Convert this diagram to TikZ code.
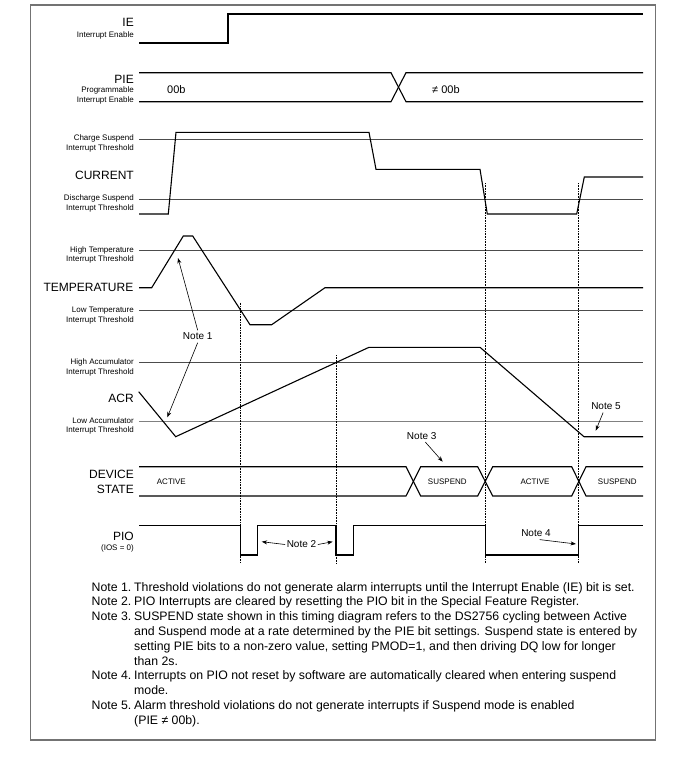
\documentclass[tikz,border=0pt]{standalone}
\usepackage{fontspec}
\setmainfont{Liberation Sans}
\usetikzlibrary{arrows.meta}
\begin{document}
\begin{tikzpicture}[x=1pt,y=-1pt,
  sig/.style={line width=1.1pt, black, line join=miter},
  thr/.style={line width=0.8pt, black!70},
  thrlight/.style={line width=1.3pt, black!50},
  vdash/.style={line width=0.6pt, densely dotted, black},
  big/.style={font=\fontsize{12}{12}\selectfont, anchor=base east, inner sep=0},
  sml/.style={font=\fontsize{8}{8}\selectfont, anchor=base east, inner sep=0},
  st/.style={font=\fontsize{8}{8}\selectfont, anchor=base, inner sep=0},
  notelbl/.style={font=\fontsize{10}{10}\selectfont, inner sep=2.5pt},
  ptr/.style={-{Stealth[length=5.5pt,width=4pt]}, line width=0.6pt},
  ntag/.style={font=\fontsize{12.3}{12.3}\selectfont, anchor=base west, inner sep=0},
]
\useasboundingbox (0,0) rectangle (678,758);
\fill[white] (0,0) rectangle (678,758);
\draw[black!55, line width=1.5pt] (30.5,5) rectangle (655.5,740);

% ---------- IE ----------
\node[big] (ieL) at (134,26.7) {IE};
\node[sml] (ieS) at (134,37) {Interrupt Enable};
\draw[sig] (139,43) -- (228,43) -- (228,14) -- (643,14);

% ---------- PIE ----------
\node[big] (pieL) at (134,83.3) {PIE};
\node[sml] (pieS1) at (134,92) {Programmable};
\node[sml] (pieS2) at (134,102) {Interrupt Enable};
\draw[sig] (139,72.7) -- (391,72.7) -- (406,101.7) -- (643,101.7);
\draw[sig] (139,101.7) -- (391,101.7) -- (406,72.7) -- (643,72.7);
\node[font=\fontsize{11}{11}\selectfont, anchor=base west, inner sep=0] (pie0) at (167,93) {00b};
\node[font=\fontsize{11}{11}\selectfont, anchor=base west, inner sep=0] (pie1) at (432,93) {≠ 00b};

% ---------- CURRENT ----------
\node[sml] (cs1) at (134,140.5) {Charge Suspend};
\node[sml] (cs2) at (134,150.5) {Interrupt Threshold};
\node[big] (curL) at (134,179) {CURRENT};
\node[sml] (ds1) at (134,200) {Discharge Suspend};
\node[sml] (ds2) at (134,210) {Interrupt Threshold};
\draw[thr] (139,139.7) -- (643,139.7);
\draw[thr] (139,199.3) -- (643,199.3);
\draw[sig] (139,214) -- (168.3,214) -- (176,132.3) -- (369,132.3) -- (376,169.3) -- (480,169.3)
  -- (487.3,214) -- (576.7,214) -- (584.3,177) -- (643,177);

% ---------- TEMPERATURE ----------
\node[sml] (ht1) at (134,252) {High Temperature};
\node[sml] (ht2) at (134,261.5) {Interrupt Threshold};
\node[big] (tempL) at (133.5,291.7) {TEMPERATURE};
\node[sml] (lt1) at (134,312) {Low Temperature};
\node[sml] (lt2) at (134,322) {Interrupt Threshold};
\draw[thr] (139,250.7) -- (643,250.7);
\draw[thr] (139,310.7) -- (643,310.7);
\draw[sig] (139,287.7) -- (151.7,287.7) -- (183.3,236) -- (192.7,236) -- (250,324.7)
  -- (271.7,324.7) -- (325,287.7) -- (643,287.7);

% ---------- ACR ----------
\node[sml] (ha1) at (134,364.5) {High Accumulator};
\node[sml] (ha2) at (134,374) {Interrupt Threshold};
\node[big] (acrL) at (134,402.3) {ACR};
\node[sml] (la1) at (134,423) {Low Accumulator};
\node[sml] (la2) at (134,432.7) {Interrupt Threshold};
\draw[thr] (139,362.3) -- (643,362.3);
\draw[thrlight] (139,421.7) -- (643,421.7);
\draw[sig] (138.7,391.7) -- (175.7,436.7) -- (369,347.3) -- (480,347.3) -- (584,436.7) -- (643,436.7);

% ---------- DEVICE STATE ----------
\node[big] (dsL1) at (134,478.3) {DEVICE};
\node[big] (dsL2) at (134,493.3) {STATE};
\draw[sig] (139,466.7) -- (406,466.7) -- (420.7,496) -- (477.7,496) -- (492.7,466.7)
  -- (571.7,466.7) -- (586,496) -- (643,496);
\draw[sig] (139,496) -- (406,496) -- (420.7,466.7) -- (477.7,466.7) -- (492.7,496)
  -- (571.7,496) -- (586,466.7) -- (643,466.7);
\node[st, anchor=base west] (stA1) at (156.7,484.5) {ACTIVE};
\node[st] (stS1) at (447.3,484.5) {SUSPEND};
\node[st] (stA2) at (535,484.5) {ACTIVE};
\node[st] (stS2) at (617.3,484.5) {SUSPEND};

% ---------- PIO ----------
\node[big] (pioL) at (134,540) {PIO};
\node[sml] (pioS) at (134,550.5) {(IOS = 0)};
\draw[sig] (139,525.7) -- (240.7,525.7) -- (240.7,555) -- (257.3,555) -- (257.3,525.7)
  -- (336,525.7) -- (336,555) -- (353.3,555) -- (353.3,525.7) -- (485.3,525.7)
  -- (485.3,555) -- (578.3,555) -- (578.3,525.7) -- (643,525.7);

% ---------- dotted markers ----------
\draw[vdash] (240.7,302.7) -- (240.7,563.3);
\draw[vdash] (336,355) -- (336,563.3);
\draw[vdash] (485.3,183) -- (485.3,563.3);
\draw[vdash] (578.3,183) -- (578.3,563.3);

% ---------- callouts ----------
\node[notelbl] (n1) at (197.7,336.5) {Note 1};
\coordinate (t1a) at (178,258);
\coordinate (t1b) at (167.3,417.3);
\draw[ptr] (n1.north) -- (t1a);
\draw[ptr] (n1.south) -- (t1b);

\node[notelbl, inner sep=1.5pt] (n2) at (301.5,544.5) {Note 2};
\coordinate (t2a) at (261.7,541.7);
\coordinate (t2b) at (332.7,541.7);
\draw[ptr] (n2.west) -- (t2a);
\draw[ptr] (n2.east) -- (t2b);

\node[notelbl] (n3) at (421.7,435.8) {Note 3};
\coordinate (t3) at (442.7,461.7);
\draw[ptr] (n3.-60) -- (t3);

\node[notelbl] (n4) at (536,533.4) {Note 4};
\coordinate (t4) at (576,544);
\draw[ptr] (n4.-60) -- (t4);

\node[notelbl] (n5) at (606,406.4) {Note 5};
\coordinate (t5) at (595.7,430.7);
\draw[ptr] (n5.-115) -- (t5);

% ---------- notes text ----------
\node[ntag] (nt1) at (91.5,591) {Note 1.};
\node[ntag] (nb1) at (134,591) {Threshold violations do not generate alarm interrupts until the Interrupt Enable (IE) bit is set.};
\node[ntag] (nt2) at (91.5,605.8) {Note 2.};
\node[ntag] (nb2) at (134,605.8) {PIO Interrupts are cleared by resetting the PIO bit in the Special Feature Register.};
\node[ntag] (nt3) at (91.5,620.6) {Note 3.};
\node[ntag] (nb3a) at (134,620.6) {SUSPEND state shown in this timing diagram refers to the DS2756 cycling between Active};
\node[ntag] (nb3b) at (134,635.4) {and Suspend mode at a rate determined by the PIE bit settings. Suspend state is entered by};
\node[ntag] (nb3c) at (134,650.2) {setting PIE bits to a non-zero value, setting PMOD=1, and then driving DQ low for longer};
\node[ntag] (nb3d) at (134,665) {than 2s.};
\node[ntag] (nt4) at (91.5,679.8) {Note 4.};
\node[ntag] (nb4a) at (134,679.8) {Interrupts on PIO not reset by software are automatically cleared when entering suspend};
\node[ntag] (nb4b) at (134,694.6) {mode.};
\node[ntag] (nt5) at (91.5,709.4) {Note 5.};
\node[ntag] (nb5a) at (134,709.4) {Alarm threshold violations do not generate interrupts if Suspend mode is enabled};
\node[ntag] (nb5b) at (134,724.2) {(PIE ≠ 00b).};
\end{tikzpicture}
\end{document}
